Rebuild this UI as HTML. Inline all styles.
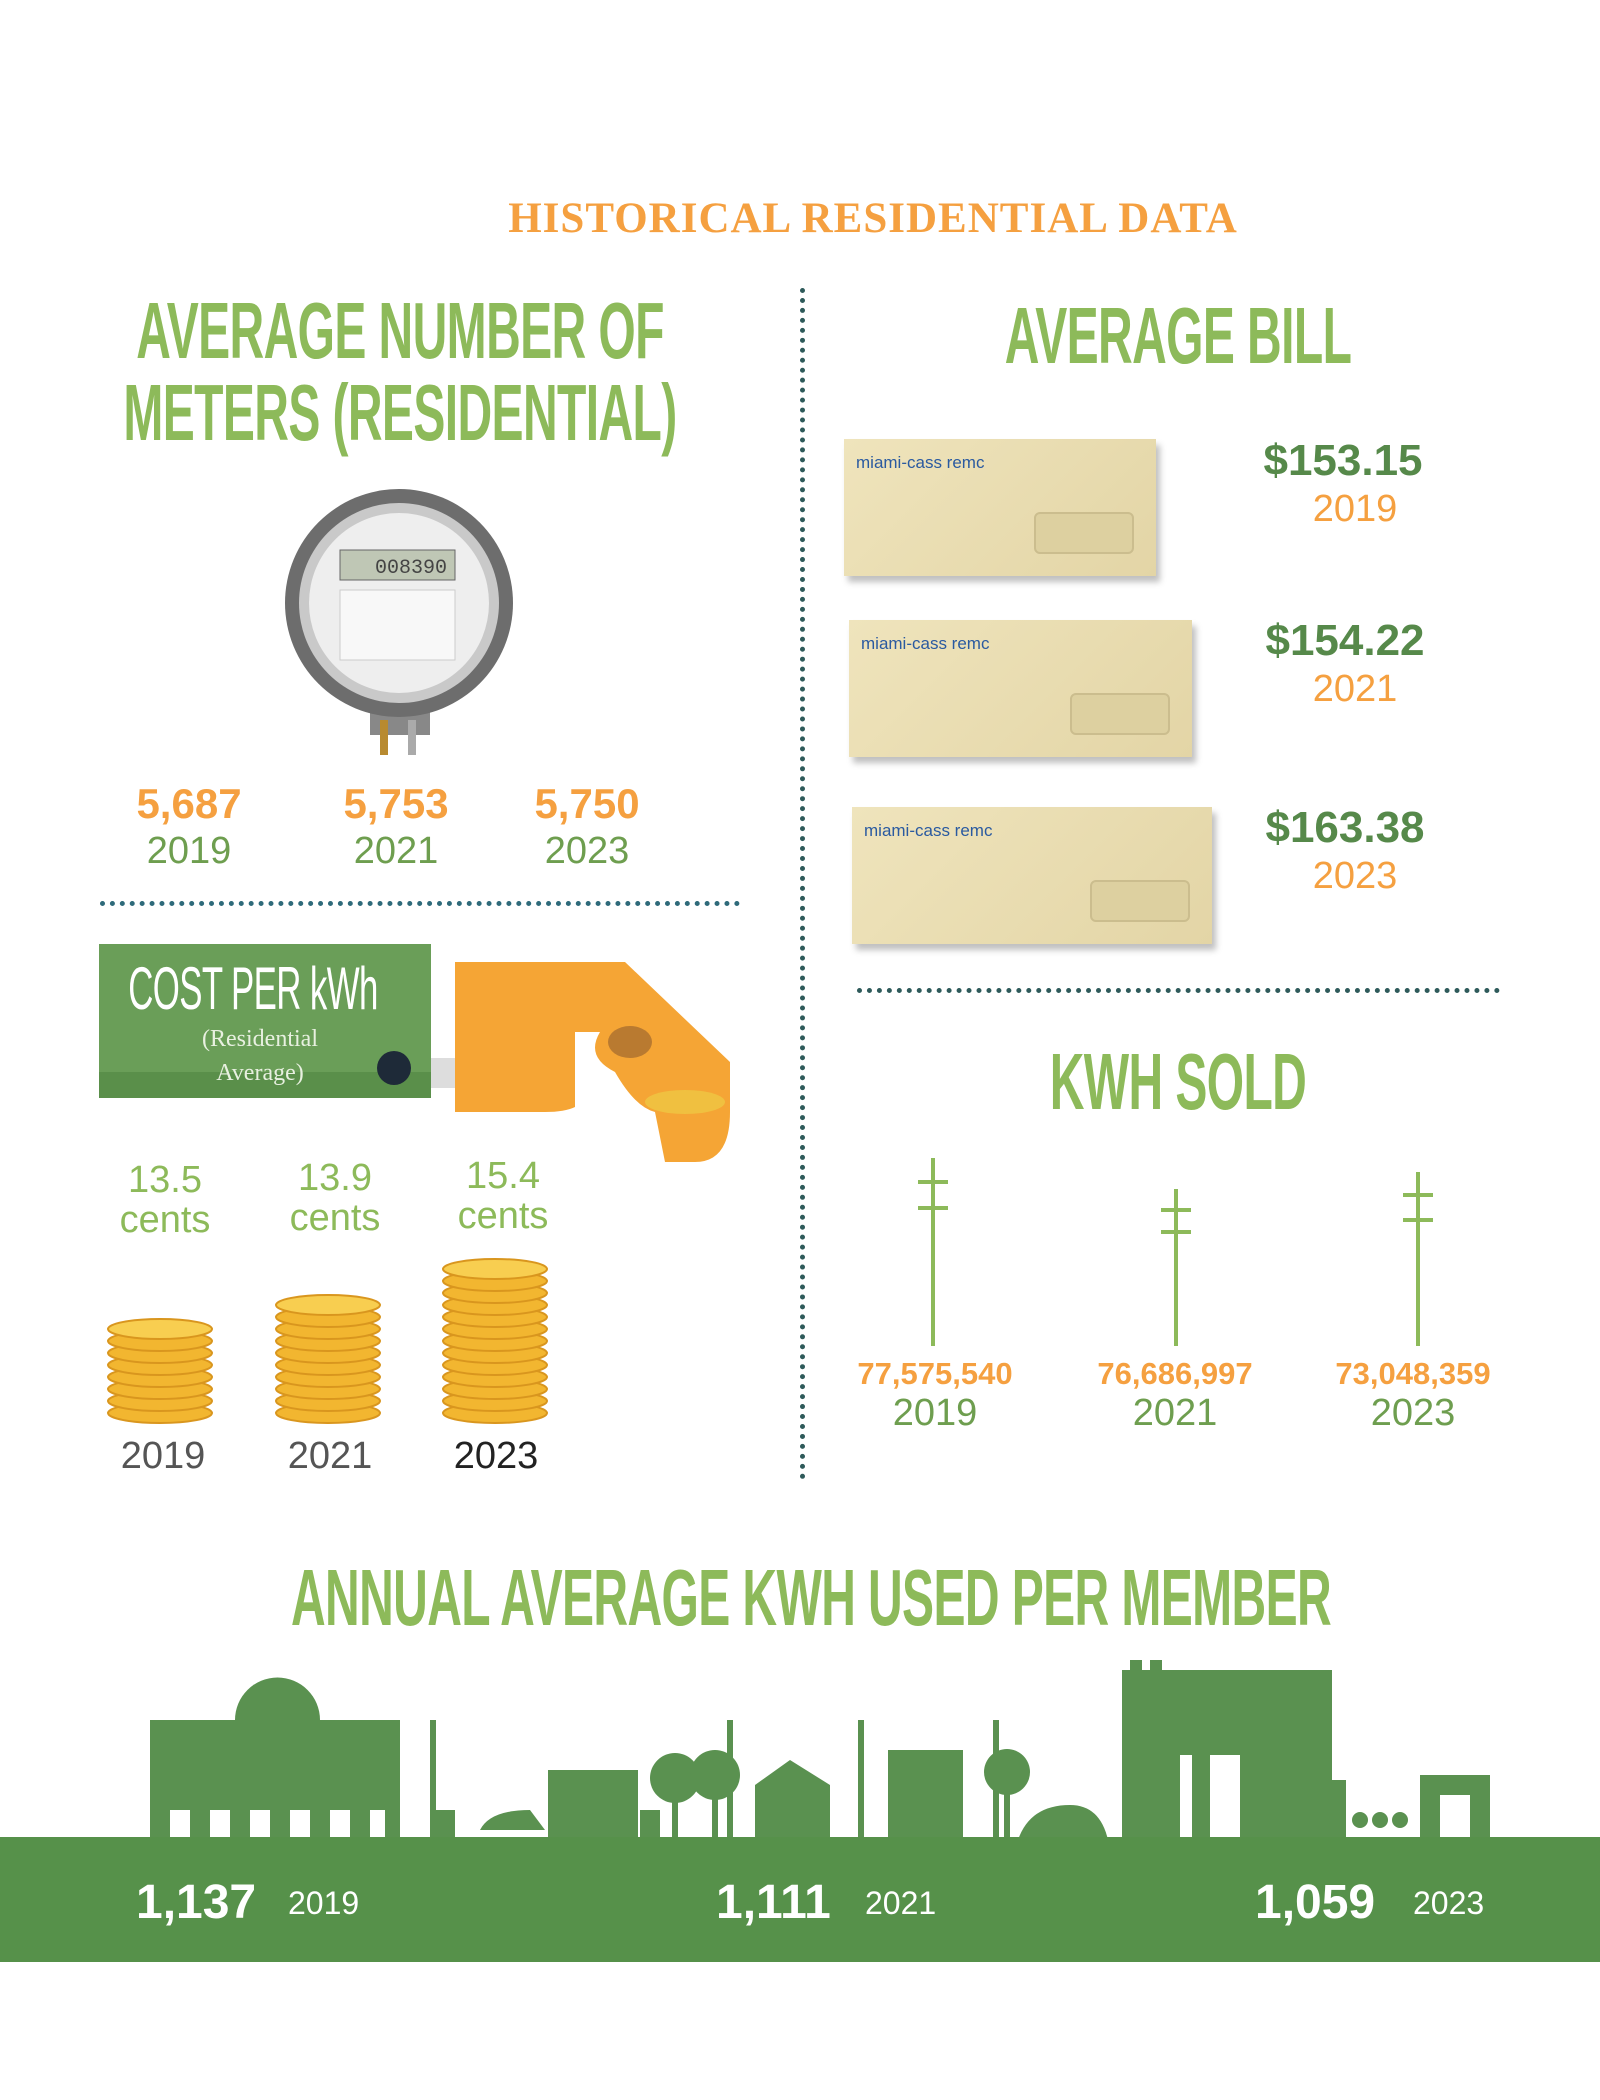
<!DOCTYPE html>
<html><head><meta charset="utf-8"><style>
html,body{margin:0;padding:0}
body{width:1600px;height:2100px;position:relative;background:#fff;overflow:hidden;font-family:"Liberation Sans",sans-serif}
.a{position:absolute}
.c{transform:translateX(-50%);white-space:nowrap;text-align:center}
.h{font-family:"Liberation Sans Narrow","Liberation Sans",sans-serif;font-weight:bold;color:#8dba5a;letter-spacing:-1px}
.or{color:#f5a040}
.gr{color:#6e9e4f}
.dg{color:#56894a}
.num{font-weight:bold;font-size:42px}
.yr{font-size:38px}
.env{position:absolute;background:linear-gradient(135deg,#efe4bc,#e3d5a6);box-shadow:4px 6px 6px rgba(0,0,0,.25)}
.env .w{position:absolute;right:22px;bottom:22px;width:96px;height:38px;border:2px solid #cbbd8e;border-radius:6px;background:#ddd0a0}
.env .l{position:absolute;left:12px;top:14px;color:#2a5aa0;font-size:17px;font-family:"Liberation Sans Narrow",sans-serif}
</style></head><body>

<div class="a c or" style="left:873px;top:194px;font-family:'Liberation Serif',serif;font-size:43px;font-weight:bold;letter-spacing:1px">HISTORICAL RESIDENTIAL DATA</div>

<div class="a c h" style="left:400px;top:290px;font-size:80px;line-height:82px;transform:translateX(-50%) scaleX(.6)">AVERAGE NUMBER OF<br>METERS (RESIDENTIAL)</div>

<div class="a" style="left:800px;top:288px;height:1192px;border-left:5px dotted #2e5a5a"></div>

<svg class="a" style="left:280px;top:480px" width="240" height="290">
<rect x="90" y="210" width="60" height="45" fill="#888"/>
<rect x="100" y="240" width="8" height="35" fill="#b88a30"/><rect x="128" y="240" width="8" height="35" fill="#aaa"/>
<circle cx="119" cy="123" r="114" fill="#6d6d6d"/>
<circle cx="119" cy="123" r="100" fill="#c9c9c9"/>
<circle cx="119" cy="123" r="90" fill="#eee"/>
<rect x="60" y="70" width="115" height="30" fill="#bfc7b5" stroke="#666"/>
<text x="95" y="93" font-size="20" fill="#444" font-family="Liberation Mono">008390</text>
<rect x="60" y="110" width="115" height="70" fill="#f8f8f8" stroke="#ccc"/>
</svg>

<div class="a c or num" style="left:189px;top:780px">5,687</div>
<div class="a c gr yr" style="left:189px;top:830px">2019</div>
<div class="a c or num" style="left:396px;top:780px">5,753</div>
<div class="a c gr yr" style="left:396px;top:830px">2021</div>
<div class="a c or num" style="left:587px;top:780px">5,750</div>
<div class="a c gr yr" style="left:587px;top:830px">2023</div>

<div class="a" style="left:100px;top:901px;width:640px;border-top:5px dotted #2e6a7a"></div>

<div class="a" style="left:99px;top:944px;width:332px;height:154px;background:#6a9e58"></div>
<div class="a" style="left:99px;top:1072px;width:332px;height:26px;background:#5a8f4a"></div>
<div class="a c h" style="left:253px;top:954px;font-size:60px;color:#fff;font-weight:normal;transform:translateX(-50%) scaleX(.58)">COST PER kWh</div>
<div class="a c" style="left:260px;top:1022px;font-family:'Liberation Serif',serif;font-size:24px;color:#e8f0e0;line-height:34px">(Residential<br>Average)</div>
<div class="a" style="left:377px;top:1051px;width:34px;height:34px;border-radius:50%;background:#1e2a38"></div>
<div class="a" style="left:431px;top:1058px;width:24px;height:30px;background:#ddd"></div>
<svg class="a" style="left:455px;top:962px" width="280" height="210">
<path d="M0 0 H170 L275 100 V150 Q275 200 240 200 H210 L200 150 Q180 145 160 110 Q130 95 145 70 H120 V145 Q110 150 90 150 H0Z" fill="#f5a535"/>
<ellipse cx="175" cy="80" rx="22" ry="16" fill="#b97a30"/>
<ellipse cx="230" cy="140" rx="40" ry="12" fill="#f0c040"/>
</svg>

<div class="a c or yr" style="left:165px;top:1160px;color:#8dba5a;line-height:40px">13.5<br>cents</div>
<div class="a c or yr" style="left:335px;top:1158px;color:#8dba5a;line-height:40px">13.9<br>cents</div>
<div class="a c or yr" style="left:503px;top:1156px;color:#8dba5a;line-height:40px">15.4<br>cents</div>

<svg class="a" style="left:100px;top:1255px" width="470" height="180">
<g fill="#f2b630" stroke="#d9961e" stroke-width="2">
<ellipse cx="60" cy="158" rx="52" ry="10"/><ellipse cx="60" cy="146" rx="52" ry="10"/><ellipse cx="60" cy="134" rx="52" ry="10"/><ellipse cx="60" cy="122" rx="52" ry="10"/><ellipse cx="60" cy="110" rx="52" ry="10"/><ellipse cx="60" cy="98" rx="52" ry="10"/><ellipse cx="60" cy="86" rx="52" ry="10"/><ellipse cx="60" cy="74" rx="52" ry="10" fill="#f8ce50"/>
<ellipse cx="228" cy="158" rx="52" ry="10"/><ellipse cx="228" cy="146" rx="52" ry="10"/><ellipse cx="228" cy="134" rx="52" ry="10"/><ellipse cx="228" cy="122" rx="52" ry="10"/><ellipse cx="228" cy="110" rx="52" ry="10"/><ellipse cx="228" cy="98" rx="52" ry="10"/><ellipse cx="228" cy="86" rx="52" ry="10"/><ellipse cx="228" cy="74" rx="52" ry="10"/><ellipse cx="228" cy="62" rx="52" ry="10"/><ellipse cx="228" cy="50" rx="52" ry="10" fill="#f8ce50"/>
<ellipse cx="395" cy="158" rx="52" ry="10"/><ellipse cx="395" cy="146" rx="52" ry="10"/><ellipse cx="395" cy="134" rx="52" ry="10"/><ellipse cx="395" cy="122" rx="52" ry="10"/><ellipse cx="395" cy="110" rx="52" ry="10"/><ellipse cx="395" cy="98" rx="52" ry="10"/><ellipse cx="395" cy="86" rx="52" ry="10"/><ellipse cx="395" cy="74" rx="52" ry="10"/><ellipse cx="395" cy="62" rx="52" ry="10"/><ellipse cx="395" cy="50" rx="52" ry="10"/><ellipse cx="395" cy="38" rx="52" ry="10"/><ellipse cx="395" cy="26" rx="52" ry="10"/><ellipse cx="395" cy="14" rx="52" ry="10" fill="#f8ce50"/>
</g></svg>
<div class="a c yr" style="left:163px;top:1435px;color:#555">2019</div>
<div class="a c yr" style="left:330px;top:1435px;color:#555">2021</div>
<div class="a c yr" style="left:496px;top:1435px;color:#222">2023</div>

<div class="a c h" style="left:1178px;top:290px;font-size:80px;transform:translateX(-50%) scaleX(.6)">AVERAGE BILL</div>

<div class="env" style="left:844px;top:439px;width:312px;height:137px"><div class="l">miami-cass remc</div><div class="w"></div></div>
<div class="env" style="left:849px;top:620px;width:343px;height:137px"><div class="l">miami-cass remc</div><div class="w"></div></div>
<div class="env" style="left:852px;top:807px;width:360px;height:137px"><div class="l">miami-cass remc</div><div class="w"></div></div>

<div class="a c dg num" style="left:1343px;top:436px;font-size:44px">$153.15</div>
<div class="a c or yr" style="left:1355px;top:488px">2019</div>
<div class="a c dg num" style="left:1345px;top:616px;font-size:44px">$154.22</div>
<div class="a c or yr" style="left:1355px;top:668px">2021</div>
<div class="a c dg num" style="left:1345px;top:803px;font-size:44px">$163.38</div>
<div class="a c or yr" style="left:1355px;top:855px">2023</div>

<div class="a" style="left:857px;top:988px;width:643px;border-top:5px dotted #2e5a5a"></div>

<div class="a c h" style="left:1178px;top:1036px;font-size:80px;transform:translateX(-50%) scaleX(.6)">KWH SOLD</div>

<svg class="a" style="left:880px;top:1150px" width="600" height="200" stroke="#8dba5a" stroke-width="4" fill="none">
<line x1="53" y1="8" x2="53" y2="196"/><line x1="38" y1="32" x2="68" y2="32"/><line x1="38" y1="58" x2="68" y2="58"/>
<line x1="296" y1="39" x2="296" y2="196"/><line x1="281" y1="60" x2="311" y2="60"/><line x1="281" y1="82" x2="311" y2="82"/>
<line x1="538" y1="22" x2="538" y2="196"/><line x1="523" y1="45" x2="553" y2="45"/><line x1="523" y1="70" x2="553" y2="70"/>
</svg>

<div class="a c or" style="left:935px;top:1356px;font-weight:bold;font-size:31px">77,575,540</div>
<div class="a c gr yr" style="left:935px;top:1392px">2019</div>
<div class="a c or" style="left:1175px;top:1356px;font-weight:bold;font-size:31px">76,686,997</div>
<div class="a c gr yr" style="left:1175px;top:1392px">2021</div>
<div class="a c or" style="left:1413px;top:1356px;font-weight:bold;font-size:31px">73,048,359</div>
<div class="a c gr yr" style="left:1413px;top:1392px">2023</div>

<div class="a c h" style="left:811px;top:1552px;font-size:80px;transform:translateX(-50%) scaleX(.6)">ANNUAL AVERAGE KWH USED PER MEMBER</div>

<svg class="a" style="left:0;top:1660px" width="1600" height="180" fill="#5a9150">
<rect x="150" y="60" width="250" height="120"/><path d="M235 60 A42 42 0 0 1 320 60 V120 H235Z"/>
<rect x="430" y="60" width="6" height="120"/><rect x="435" y="150" width="20" height="30"/>
<path d="M480 170 Q490 150 530 150 L545 170Z"/>
<rect x="548" y="110" width="90" height="70"/><rect x="640" y="150" width="20" height="30"/>
<circle cx="675" cy="118" r="25"/><rect x="672" y="118" width="6" height="62"/>
<circle cx="715" cy="115" r="25"/><rect x="712" y="115" width="6" height="65"/>
<rect x="727" y="60" width="6" height="120"/>
<path d="M755 125 L790 100 L830 125 V180 H755Z"/>
<rect x="858" y="60" width="6" height="120"/>
<rect x="888" y="90" width="75" height="90"/><rect x="993" y="60" width="6" height="120"/>
<circle cx="1007" cy="112" r="23"/><rect x="1004" y="112" width="6" height="68"/>
<path d="M1018 180 Q1030 145 1070 145 Q1100 145 1108 180Z"/>
<rect x="1122" y="10" width="210" height="170"/><rect x="1130" y="-5" width="12" height="20"/><rect x="1150" y="-5" width="12" height="20"/>
<rect x="1332" y="120" width="14" height="60"/><circle cx="1360" cy="160" r="8"/><circle cx="1380" cy="160" r="8"/><circle cx="1400" cy="160" r="8"/>
<rect x="1420" y="115" width="70" height="65"/>
<g fill="#fff"><rect x="1180" y="95" width="12" height="85"/><rect x="1210" y="95" width="30" height="85"/><rect x="1440" y="135" width="30" height="45"/>
<rect x="170" y="150" width="20" height="30"/><rect x="210" y="150" width="20" height="30"/><rect x="250" y="150" width="20" height="30"/><rect x="290" y="150" width="20" height="30"/><rect x="330" y="150" width="20" height="30"/><rect x="370" y="150" width="15" height="30"/></g>
</svg>

<div class="a" style="left:0;top:1837px;width:1600px;height:125px;background:#56914a"></div>
<div class="a" style="left:136px;top:1875px;color:#fff;font-weight:bold;font-size:48px">1,137</div>
<div class="a" style="left:288px;top:1885px;color:#fff;font-size:32px">2019</div>
<div class="a" style="left:716px;top:1875px;color:#fff;font-weight:bold;font-size:48px">1,111</div>
<div class="a" style="left:865px;top:1885px;color:#fff;font-size:32px">2021</div>
<div class="a" style="left:1255px;top:1875px;color:#fff;font-weight:bold;font-size:48px">1,059</div>
<div class="a" style="left:1413px;top:1885px;color:#fff;font-size:32px">2023</div>
</body></html>
